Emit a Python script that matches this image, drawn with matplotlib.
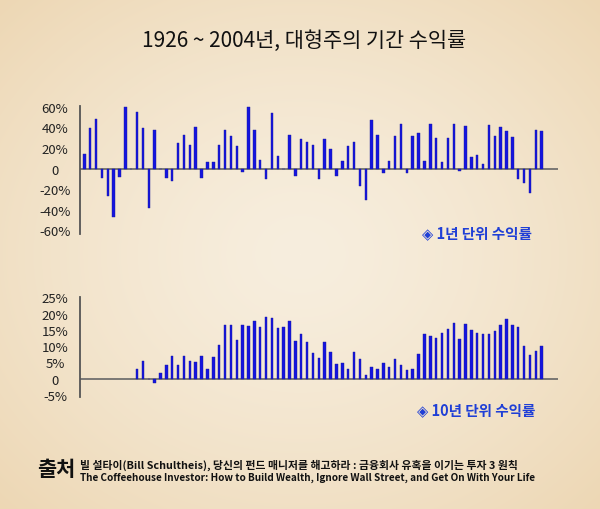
import numpy as np
import matplotlib
matplotlib.use('Agg')
import matplotlib.pyplot as plt

# ---------------- data ----------------
years_1y = list(range(1926, 2005))
ret_1y = [14, 39, 48, -9, -27, -47, -8, 60, 0, 55,
          39, -38, 37, 0, -9, -12, 25, 33, 23, 40,
          -9, 6, 6, 23, 37, 32, 22, -3, 60, 37,
          8, -10, 54, 12, 0, 33, -7, 29, 26, 23,
          -10, 29, 19, -7, 7, 22, 26, -17, -31, 47,
          33, -4, 7, 32, 43, -4, 32, 34, 7, 43,
          30, 6, 30, 43, -2, 41, 11, 13, 4, 42,
          32, 40, 36, 31, -10, -14, -24, 37, 36]

years_10y = list(range(1935, 2005))
ret_10y = [3.0, 5.5, 0.0, -1.2, 1.7, 4.1, 6.9, 4.1, 6.9, 5.5,
           5.1, 6.9, 3.0, 6.6, 10.4, 16.5, 16.5, 11.8, 16.5, 16.1,
           17.7, 15.8, 18.9, 18.5, 15.6, 15.8, 17.7, 11.6, 13.8, 11.2,
           8.0, 6.5, 11.2, 8.2, 4.4, 4.8, 3.0, 8.2, 6.0, 1.3,
           3.5, 3.0, 4.8, 3.5, 6.0, 4.1, 2.8, 3.0, 7.7, 13.8,
           13.1, 12.6, 14.0, 15.4, 17.0, 12.3, 16.8, 15.1, 14.0, 13.6,
           13.8, 14.7, 16.5, 18.2, 16.5, 15.8, 10.2, 7.4, 8.6, 10.2]

yticks_top = [60, 40, 20, 0, -20, -40, -60]
yticklabels_top = ['60%', '40%', '20%', '0', '-20%', '-40%', '-60%']
yticks_bot = [25, 20, 15, 10, 5, 0, -5]
yticklabels_bot = ['25%', '20%', '15%', '10%', '5%', '0', '-5%']

title = '1926 ~ 2004년, 대형주의 기간 수익률'
legend_1y = '◈ 1년 단위 수익률'
legend_10y = '◈ 10년 단위 수익률'
source_head = '출처'
source_kr = '빌 설타이(Bill Schultheis), 당신의 펀드 매니저를 해고하라 : 금융회사 유혹을 이기는 투자 3 원칙'
source_en = 'The Coffeehouse Investor: How to Build Wealth, Ignore Wall Street, and Get On With Your Life'

# ---------------- style ----------------
plt.rcParams['font.family'] = ['Noto Sans CJK KR', 'DejaVu Sans']
BAR = '#1414e0'
LEG = '#1f3fd6'

W, H = 600, 510
fig = plt.figure(figsize=(W / 100, H / 100), dpi=100)

# parchment-like background (radial vignette)
bg = fig.add_axes([0, 0, 1, 1], zorder=-10)
yy, xx = np.mgrid[0:H, 0:W]
r = np.sqrt(((xx - W / 2) / (W / 2)) ** 2 + ((yy - H / 2) / (H / 2)) ** 2) / np.sqrt(2)
c0 = np.array([247, 238, 222]) / 255
c1 = np.array([237, 215, 180]) / 255
t = np.clip(r, 0, 1) ** 1.4
img = c0 + (c1 - c0) * t[..., None]
bg.imshow(img, aspect='auto', extent=[0, 1, 0, 1])
bg.axis('off')


def setup(ax, ylim, ticks, labels):
    ax.set_xlim(1925.27, 2006.78)
    ax.set_ylim(*ylim)
    ax.patch.set_alpha(0)
    for s in ['top', 'right', 'bottom']:
        ax.spines[s].set_visible(False)
    ax.spines['left'].set_color('#555555')
    ax.spines['left'].set_linewidth(1.3)
    ax.axhline(0, color='#666666', lw=1.2, zorder=1)
    ax.set_xticks([])
    ax.set_yticks(ticks)
    ax.set_yticklabels(labels)
    ax.tick_params(axis='y', length=0, pad=18, labelsize=9.5, labelcolor='#222222')
    for lbl in ax.get_yticklabels():
        lbl.set_horizontalalignment('center')


ax1 = fig.add_axes([80 / W, 1 - 235.4 / H, 478 / W, 128.7 / H])
setup(ax1, (-64, 61), yticks_top, yticklabels_top)
ax1.bar(years_1y, ret_1y, width=0.42, color=BAR, edgecolor='#1a1a9a', linewidth=0.3, zorder=2)

ax2 = fig.add_axes([80 / W, 1 - 398 / H, 478 / W, 100 / H])
setup(ax2, (-5.6, 25.1), yticks_bot, yticklabels_bot)
ax2.bar(years_10y, ret_10y, width=0.42, color=BAR, edgecolor='#1a1a9a', linewidth=0.3, zorder=2)

fig.text(304 / W, 1 - 41 / H, title, ha='center', va='center', fontsize=15, color='#111111')

fig.text(422 / W, 1 - 233 / H, legend_1y, ha='left', va='center', fontsize=10.5,
         fontweight='bold', color=LEG)
fig.text(417 / W, 1 - 410 / H, legend_10y, ha='left', va='center', fontsize=10.5,
         fontweight='bold', color=LEG)

fig.text(37 / W, 1 - 470 / H, source_head, ha='left', va='center', fontsize=15,
         fontweight='bold', color='#111111')
fig.text(80 / W, 1 - 465 / H, source_kr, ha='left', va='center', fontsize=7.8,
         fontweight='bold', color='#111111')
fig.text(80 / W, 1 - 477.5 / H, source_en, ha='left', va='center', fontsize=7.2,
         fontweight='bold', color='#111111')

fig.savefig('out.png', dpi=100)
